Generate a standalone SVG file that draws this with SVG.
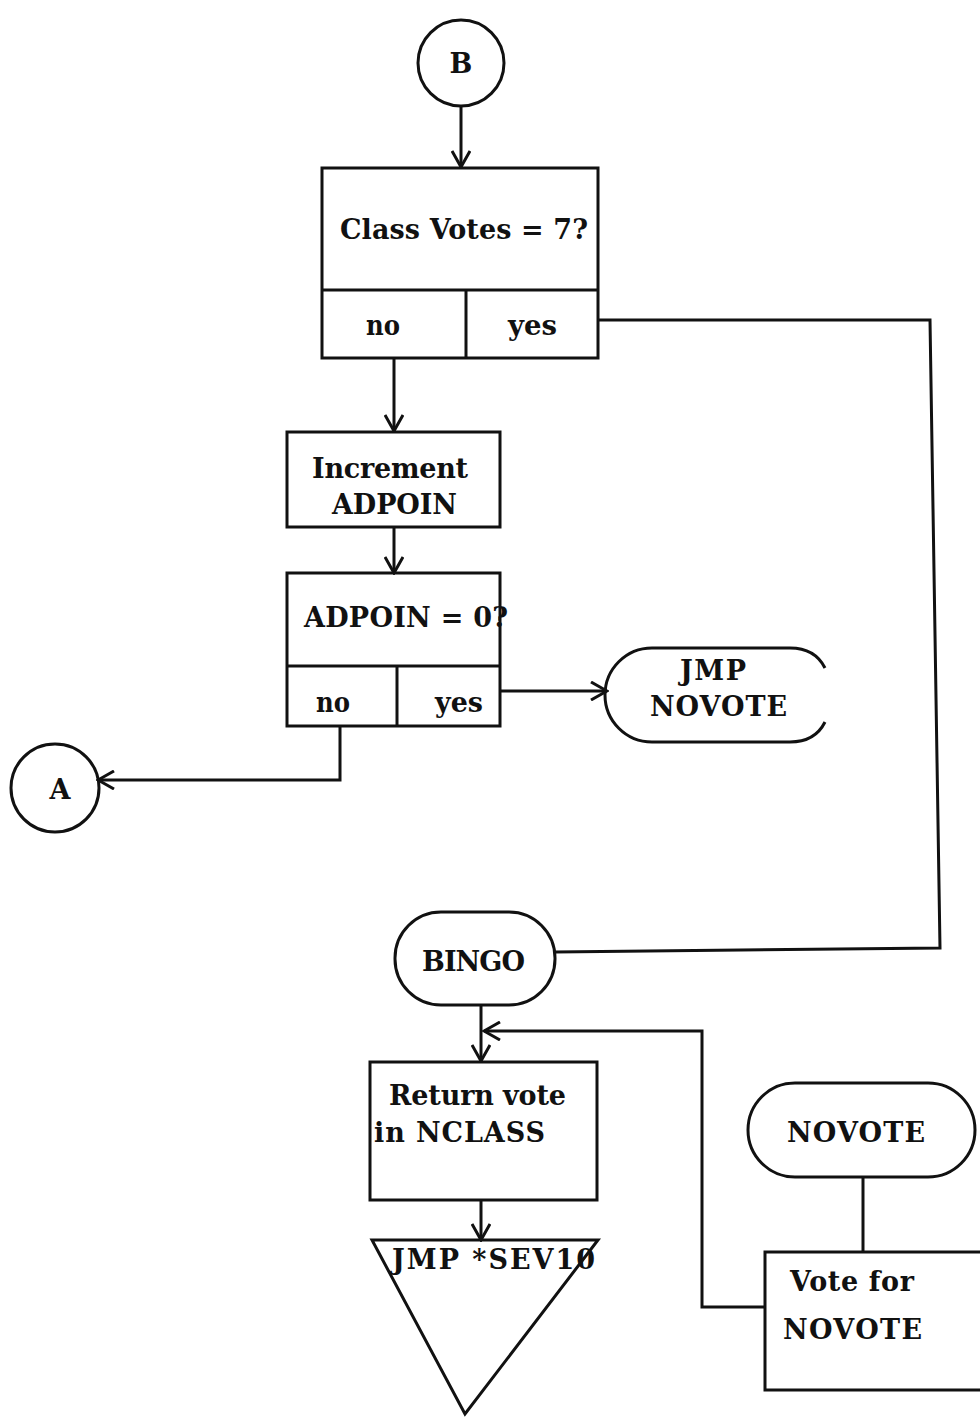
<svg xmlns="http://www.w3.org/2000/svg" width="980" height="1417" viewBox="0 0 980 1417">
<style>
.s{fill:none;stroke:#111;stroke-width:3;stroke-linejoin:miter}
.t{font-family:"DejaVu Serif","Liberation Serif",serif;font-weight:bold;font-size:27px;fill:#111;text-anchor:middle}
.tl{font-family:"DejaVu Serif","Liberation Serif",serif;font-weight:bold;font-size:27px;fill:#111}
</style>
<defs>
<marker id="ar" viewBox="0 0 20 20" refX="18" refY="10" markerWidth="20" markerHeight="20" markerUnits="userSpaceOnUse" orient="auto">
<path d="M2,1 L18,10 L2,19" fill="none" stroke="#111" stroke-width="3"/>
</marker>
</defs>
<rect width="980" height="1417" fill="#fff"/>
<g id="connectors">
<line class="s" x1="461" y1="106" x2="461" y2="167" marker-end="url(#ar)"/>
<line class="s" x1="394" y1="358" x2="394" y2="431" marker-end="url(#ar)"/>
<line class="s" x1="394" y1="527" x2="394" y2="573" marker-end="url(#ar)"/>
<polyline class="s" points="598,320 930,320 940,948 555,952"/>
<line class="s" x1="500" y1="691" x2="607" y2="691" marker-end="url(#ar)"/>
<polyline class="s" points="340,726 340,780 98,780" marker-end="url(#ar)"/>
<line class="s" x1="481" y1="1005" x2="481" y2="1061" marker-end="url(#ar)"/>
<polyline class="s" points="765,1307 702,1307 702,1031 484,1031" marker-end="url(#ar)"/>
<line class="s" x1="481" y1="1200" x2="481" y2="1240" marker-end="url(#ar)"/>
<line class="s" x1="863" y1="1177" x2="863" y2="1252"/>
</g>
<g id="nodeB">
<circle class="s" cx="461" cy="63" r="43"/>
<text class="t" x="461" y="73">B</text>
</g>
<g id="classVotes">
<rect class="s" x="322" y="168" width="276" height="190"/>
<line class="s" x1="322" y1="290" x2="598" y2="290"/>
<line class="s" x1="466" y1="290" x2="466" y2="358"/>
<text class="tl" x="340" y="239" textLength="248" lengthAdjust="spacing">Class Votes = 7?</text>
<text class="tl" x="366" y="335" textLength="34" lengthAdjust="spacingAndGlyphs">no</text>
<text class="tl" x="508" y="335" textLength="49" lengthAdjust="spacingAndGlyphs">yes</text>
</g>
<g id="increment">
<rect class="s" x="287" y="432" width="213" height="95"/>
<text class="tl" x="312" y="478" textLength="156" lengthAdjust="spacing">Increment</text>
<text class="tl" x="332" y="514" textLength="125" lengthAdjust="spacing">ADPOIN</text>
</g>
<g id="adpoinZero">
<rect class="s" x="287" y="573" width="213" height="153"/>
<line class="s" x1="287" y1="666" x2="500" y2="666"/>
<line class="s" x1="397" y1="666" x2="397" y2="726"/>
<text class="tl" x="304" y="627" textLength="204" lengthAdjust="spacing">ADPOIN = 0?</text>
<text class="tl" x="316" y="712" textLength="34" lengthAdjust="spacingAndGlyphs">no</text>
<text class="tl" x="435" y="712" textLength="48" lengthAdjust="spacingAndGlyphs">yes</text>
</g>
<g id="jmpNovote">
<path class="s" d="M825,668 Q815,648 790,648 L652,648 A47,47 0 0 0 652,742 L790,742 Q815,742 825,722"/>
<text class="tl" x="680" y="680" textLength="66" lengthAdjust="spacing">JMP</text>
<text class="tl" x="650" y="716" textLength="137" lengthAdjust="spacing">NOVOTE</text>
</g>
<g id="nodeA">
<circle class="s" cx="55" cy="788" r="44"/>
<text class="t" x="60" y="799">A</text>
</g>
<g id="bingo">
<rect class="s" x="395" y="912" width="160" height="93" rx="46" ry="46"/>
<text class="tl" x="422" y="971" textLength="103" lengthAdjust="spacing">BINGO</text>
</g>
<g id="returnVote">
<rect class="s" x="370" y="1062" width="227" height="138"/>
<text class="tl" x="389" y="1105" textLength="177" lengthAdjust="spacing">Return vote</text>
<text class="tl" x="374" y="1142" textLength="171" lengthAdjust="spacing">in NCLASS</text>
</g>
<g id="jmpSev">
<path class="s" d="M372,1240 L598,1240 L465,1414 Z"/>
<text class="tl" x="392" y="1269" textLength="203" lengthAdjust="spacing">JMP *SEV10</text>
</g>
<g id="novote">
<rect class="s" x="748" y="1083" width="227" height="94" rx="47" ry="47"/>
<text class="tl" x="787" y="1142" textLength="138" lengthAdjust="spacing">NOVOTE</text>
</g>
<g id="voteFor">
<path class="s" d="M980,1252 L765,1252 L765,1390 L980,1390"/>
<text class="tl" x="790" y="1291" textLength="124" lengthAdjust="spacing">Vote for</text>
<text class="tl" x="783" y="1339" textLength="139" lengthAdjust="spacing">NOVOTE</text>
</g>
</svg>
